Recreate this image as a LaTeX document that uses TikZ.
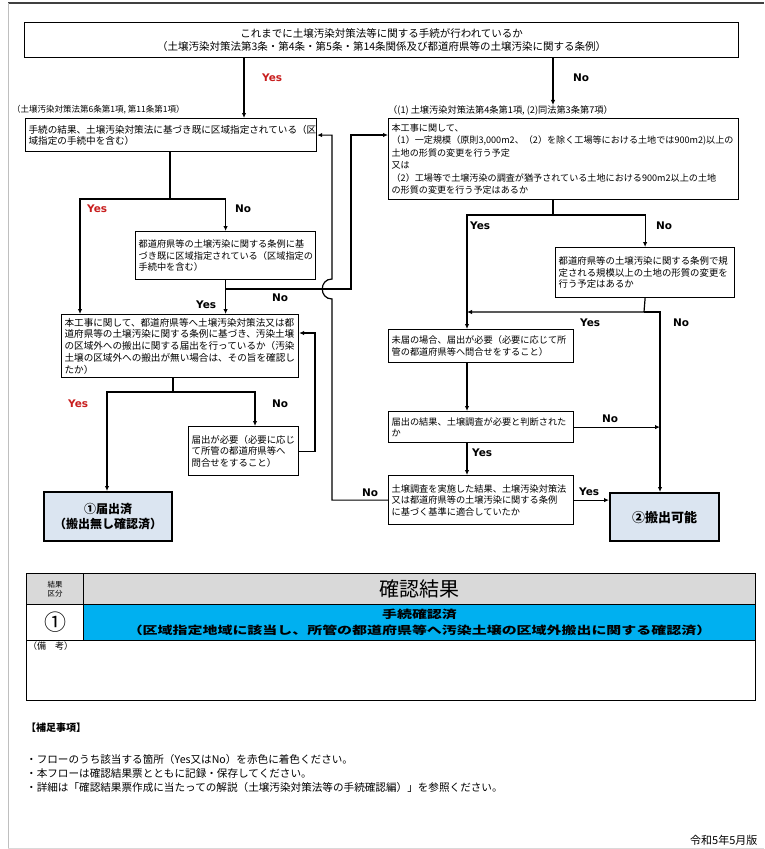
\documentclass[tikz,border=0pt]{standalone}
\usepackage{fontspec}
\usepackage{graphicx}
\setmainfont{Noto Sans CJK JP}
\newfontfamily\ynfont{DejaVu Sans}
\usetikzlibrary{positioning}
\usetikzlibrary{arrows.meta}
\usetikzlibrary{calc}

\definecolor{yesred}{RGB}{200,30,30}
\definecolor{endblue}{RGB}{219,229,241}
\definecolor{hdrgray}{RGB}{217,217,217}
\definecolor{rescyan}{RGB}{0,176,240}

\tikzset{
  qbox/.style={draw, line width=1.2pt, anchor=north west, align=left, inner xsep=3pt, inner ysep=1pt,
    font=\fontsize{9.2pt}{11.5pt}\selectfont},
  endbox/.style={draw, line width=2.2pt, fill=endblue, anchor=north west, align=center,
    font=\bfseries\fontsize{12pt}{15pt}\selectfont},
  ln/.style={line width=1.2pt},
  arr/.style={ln, -{Latex[length=5pt,width=4.5pt]}},
  yn/.style={anchor=west, inner sep=0pt, font=\ynfont\bfseries\fontsize{10.5pt}{12pt}\selectfont},
  yesr/.style={yn, text=yesred},
  captxt/.style={anchor=west, inner sep=0pt, font=\fontsize{8.5pt}{10pt}\selectfont},
  cell/.style={draw, line width=1pt, anchor=north west, align=center, inner sep=0pt},
  note/.style={anchor=west, inner sep=0pt, font=\fontsize{10.6pt}{12pt}\selectfont}
}

\begin{document}
\begin{tikzpicture}[x=1pt, y=-1pt]
  % page size and frame
  \useasboundingbox (0,0) rectangle (764,849);
  \draw[black!75, line width=1.5pt] (8,3) -- (764,3);
  \draw[black!25, line width=1pt] (8,3) -- (8,849);
  \draw[black!15] (8,848) -- (764,848);

  % question boxes
  \node[qbox, text width=708pt, minimum height=35pt, align=center, font=\fontsize{10.5pt}{13pt}\selectfont] (top) at (24,22)
    {これまでに土壌汚染対策法等に関する手続が行われているか\\（土壌汚染対策法第3条・第4条・第5条・第14条関係及び都道府県等の土壌汚染に関する条例）};
  \node[captxt] (capA) at (12,110) {（土壌汚染対策法第6条第1項, 第11条第1項）};
  \node[captxt, font=\fontsize{9.2pt}{10pt}\selectfont] (capB) at (388,110) {（(1) 土壌汚染対策法第4条第1項, (2)同法第3条第7項）};
  \node[qbox, text width=285pt, minimum height=33pt, font=\fontsize{9.6pt}{11.5pt}\selectfont] (A) at (25,118)
    {手続の結果、土壌汚染対策法に基づき既に区域指定されている（区\\域指定の手続中を含む）};
  \node[qbox, text width=344pt, minimum height=81pt, font=\fontsize{9.1pt}{12.5pt}\selectfont] (B) at (388,118)
    {本工事に関して、\\（1）一定規模（原則3,000m2、（2）を除く工場等における土地では900m2)以上の\\土地の形質の変更を行う予定\\又は\\（2）工場等で土壌汚染の調査が猶予されている土地における900m2以上の土地\\の形質の変更を行う予定はあるか};
  \node[qbox, text width=174pt, minimum height=48pt] (D) at (135,231)
    {都道府県等の土壌汚染に関する条例に基\\づき既に区域指定されている（区域指定の\\手続中を含む）};
  \node[qbox, text width=173pt, minimum height=50pt, font=\fontsize{9.4pt}{11.5pt}\selectfont] (I) at (555,247)
    {都道府県等の土壌汚染に関する条例で規\\定される規模以上の土地の形質の変更を\\行う予定はあるか};
  \node[qbox, text width=231pt, minimum height=63pt, font=\fontsize{9.6pt}{11.8pt}\selectfont] (C) at (61,314)
    {本工事に関して、都道府県等へ土壌汚染対策法又は都\\道府県等の土壌汚染に関する条例に基づき、汚染土壌\\の区域外への搬出に関する届出を行っているか（汚染\\土壌の区域外への搬出が無い場合は、その旨を確認し\\たか）};
  \node[qbox, text width=179pt, minimum height=33pt] (H) at (388,329)
    {未届の場合、届出が必要（必要に応じて所\\管の都道府県等へ問合せをすること）};
  \node[qbox, text width=179pt, minimum height=31pt] (J) at (388,411)
    {届出の結果、土壌調査が必要と判断された\\か};
  \node[qbox, text width=104pt, minimum height=49pt, font=\fontsize{9.4pt}{11.5pt}\selectfont] (E) at (188,426)
    {届出が必要（必要に応じ\\て所管の都道府県等へ\\問合せをすること）};
  \node[qbox, text width=179pt, minimum height=49pt] (G) at (388,475)
    {土壌調査を実施した結果、土壌汚染対策法\\又は都道府県等の土壌汚染に関する条例\\に基づく基準に適合していたか};

  % end boxes
  \node[endbox, minimum width=128pt, minimum height=49pt] (F) at (43,491) {①届出済\\（搬出無し確認済）};
  \node[endbox, minimum width=109pt, minimum height=48pt, font=\bfseries\fontsize{13pt}{15pt}\selectfont] (K) at (609,492) {②搬出可能};

  % junctions
  \coordinate (topYes) at (244,0);
  \coordinate (topNo) at (553,0);
  \coordinate (aSplit) at (170,199);
  \coordinate (aYes) at (80,199);
  \coordinate (aNo) at (225,199);
  \coordinate (dNo) at (225,289);
  \coordinate (dUp) at (351,0);
  \coordinate (hopLo) at (332,299);
  \coordinate (hopHi) at (332,279);
  \coordinate (cSplit) at (173,392);
  \coordinate (cYes) at (107,392);
  \coordinate (cNo) at (255,392);
  \coordinate (eUp) at (315,333);
  \coordinate (bSplit) at (553,215);
  \coordinate (bYes) at (467,215);
  \coordinate (iSplit) at (644,312);
  \coordinate (kCol) at (660,0);

  % left branch
  \draw[arr] (top.south -| topYes) -- (A.north -| topYes);
  \draw[arr] (A.south -| aSplit) |- (aYes) -- (C.north -| aYes);
  \draw[arr] (aSplit) -| (D.north);
  \draw[arr] (D.south) -- (C.north -| D.south);
  \draw[arr] (dNo) -- (dNo -| dUp) |- ([yshift=-17pt]B.north west);
  \draw[arr] (G.west) -| (hopLo) .. controls +(-13,0) and +(-13,0) .. (hopHi) |- (A.east);
  \draw[arr] (C.south -| cSplit) |- (cYes) -- (F.north -| cYes);
  \draw[arr] (cSplit) -| (E.north -| cNo);
  \draw[arr] (E.east) -| (eUp) -- (C.east |- eUp);

  % right branch
  \draw[arr] (top.south -| topNo) -- (capB.north -| topNo);
  \draw[arr] (B.south -| topNo) |- (bYes) -- (H.north -| bYes);
  \draw[arr] (bSplit) -| (I.north);
  \draw[arr] (I.south) -- (iSplit) -- (iSplit -| bYes);
  \draw[arr] (iSplit) -| (K.north -| kCol);
  \draw[arr] (H.south -| bYes) -- (J.north -| bYes);
  \draw[arr] (J.south -| bYes) -- (G.north -| bYes);
  \draw[arr] (J.east) -- (J.east -| kCol);
  \draw[arr] (G.east) -- (K.west |- G.east);

  % yes / no labels
  \node[yesr] (y1) at (262,78) {Yes};
  \node[yn] (n1) at (573,78) {No};
  \node[yesr] (y2) at (87,209) {Yes};
  \node[yn] (n2) at (235,209) {No};
  \node[yn] (y3) at (196,305) {Yes};
  \node[yn] (n3) at (272,298) {No};
  \node[yesr] (y4) at (68,404) {Yes};
  \node[yn] (n4) at (272,404) {No};
  \node[yn] (n5) at (362,493) {No};
  \node[yn] (y5) at (470,226) {Yes};
  \node[yn] (n6) at (656,226) {No};
  \node[yn] (y6) at (580,323) {Yes};
  \node[yn] (n7) at (673,323) {No};
  \node[yn] (n8) at (602,419) {No};
  \node[yn] (y7) at (472,453) {Yes};
  \node[yn] (y8) at (579,492) {Yes};

  % result table
  \node[cell, fill=hdrgray, minimum width=57pt, minimum height=31pt, font=\fontsize{7.5pt}{9pt}\selectfont] (kubun) at (26,573) {結果\\区分};
  \node[cell, fill=hdrgray, minimum width=672pt, minimum height=31pt, font=\fontsize{20pt}{22pt}\selectfont] (kekka) at (83,573) {確認結果};
  \node[cell, minimum width=57pt, minimum height=36pt, font=\fontsize{22pt}{22pt}\selectfont] (maru) at (26,604) {①};
  \node[cell, fill=rescyan, minimum width=672pt, minimum height=36pt, font=\bfseries\fontsize{11pt}{16pt}\selectfont] (kakunin) at (83,604)
    {\scalebox{1.36}[1]{手続確認済}\\\scalebox{1.36}[1]{（区域指定地域に該当し、所管の都道府県等へ汚染土壌の区域外搬出に関する確認済）}};
  \node[cell, minimum width=729pt, minimum height=60pt] (biko) at (26,640) {};
  \node[anchor=north west, inner sep=1pt, font=\fontsize{9pt}{11pt}\selectfont] (bikoLbl) at (27,641) {（備　考）};

  % notes
  \node[note, font=\bfseries\fontsize{10pt}{12pt}\selectfont] (hosoku) at (26,728) {【補足事項】};
  \node[note] (note1) at (26,759) {・フローのうち該当する箇所（Yes又はNo）を赤色に着色ください。};
  \node[note] (note2) at (26,773) {・本フローは確認結果票とともに記録・保存してください。};
  \node[note] (note3) at (26,787) {・詳細は「確認結果票作成に当たっての解説（土壌汚染対策法等の手続確認編）」を参照ください。};
  \node[anchor=west, inner sep=0pt, font=\fontsize{11pt}{13pt}\selectfont] (date) at (690,840) {令和5年5月版};
\end{tikzpicture}
\end{document}
